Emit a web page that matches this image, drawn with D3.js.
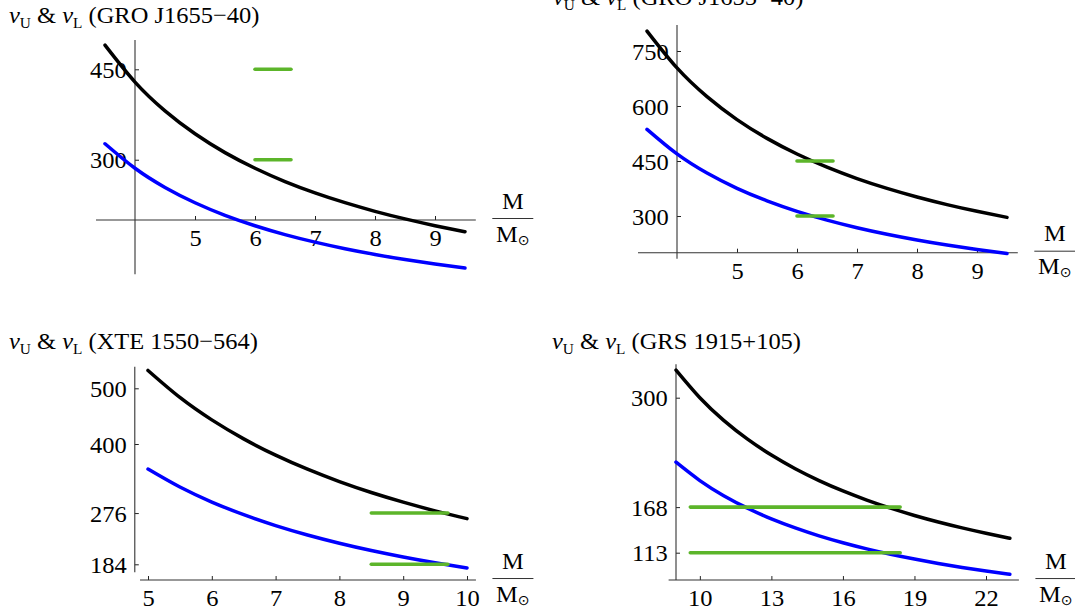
<!DOCTYPE html>
<html>
<head>
<meta charset="utf-8">
<script src="https://cdn.jsdelivr.net/npm/d3@7"></script>
<style>
  html, body { margin: 0; padding: 0; background: #ffffff; }
  svg { display: block; }
</style>
</head>
<body>
<script>
// ---------------- DATA ----------------
// Panel 1: GRO J1655-40 (top-left)
const p1Source = "GRO J1655\u221240";
const p1Mass  = [3.5, 4, 4.5, 5, 5.5, 6, 6.5, 7, 7.5, 8, 8.5, 9, 9.5];
const p1Upper = [490, 428.8, 381.1, 343, 311.8, 285.8, 263.8, 245, 228.7, 214.4, 201.8, 190.6, 180.5];
const p1Lower = [326.5, 285.8, 254, 228.6, 207.8, 190.5, 175.8, 163.3, 152.4, 142.9, 134.5, 127, 120.3];
const p1XTicks = [5, 6, 7, 8, 9];
const p1YTicks = [300, 450];
const p1ObsFreq = [450, 300];
const p1MassRange = [6.0, 6.6];

// Panel 2: GRO J1655-40 (top-right)
const p2Source = "GRO J1655\u221240";
const p2Mass  = [3.5, 4, 4.5, 5, 5.5, 6, 6.5, 7, 7.5, 8, 8.5, 9, 9.5];
const p2Upper = [804.3, 703.8, 625.6, 563, 511.8, 469.2, 433.1, 402.1, 375.3, 351.9, 331.2, 312.8, 296.3];
const p2Lower = [536.3, 469.3, 417.1, 375.4, 341.3, 312.8, 288.8, 268.1, 250.3, 234.6, 220.8, 208.6, 197.6];
const p2XTicks = [5, 6, 7, 8, 9];
const p2YTicks = [300, 450, 600, 750];
const p2ObsFreq = [450, 300];
const p2MassRange = [6.0, 6.6];

// Panel 3: XTE 1550-564 (bottom-left)
const p3Source = "XTE 1550\u2212564";
const p3Mass  = [5, 5.5, 6, 6.5, 7, 7.5, 8, 8.5, 9, 9.5, 10];
const p3Upper = [532, 483.6, 443.3, 409.2, 380, 354.7, 332.5, 312.9, 295.6, 280, 266];
const p3Lower = [355, 322.7, 295.8, 273.1, 253.6, 236.7, 221.9, 208.8, 197.2, 186.8, 177.5];
const p3XTicks = [5, 6, 7, 8, 9, 10];
const p3YTicks = [184, 276, 400, 500];
const p3ObsFreq = [276, 184];
const p3MassRange = [8.5, 9.7];

// Panel 4: GRS 1915+105 (bottom-right)
const p4Source = "GRS 1915+105";
const p4Mass  = [9, 10, 11, 12, 13, 14, 15, 16, 17, 18, 19, 20, 21, 22, 23];
const p4Upper = [333.3, 300, 272.7, 250, 230.8, 214.3, 200, 187.5, 176.5, 166.7, 157.9, 150, 142.9, 136.4, 130.4];
const p4Lower = [222.2, 200, 181.8, 166.7, 153.8, 142.9, 133.3, 125, 117.6, 111.1, 105.3, 100, 95.2, 90.9, 87];
const p4XTicks = [10, 13, 16, 19, 22];
const p4YTicks = [113, 168, 300];
const p4ObsFreq = [168, 113];
const p4MassRange = [9.6, 18.4];

// ---------------- LAYOUT ----------------
const W = 1075, H = 613;
const FONT = "Liberation Serif, Times New Roman, serif";
const FS = 24, SX = 1.02, SUB = 15;
const COL_UP = "#000000", COL_LO = "#0000ff", COL_OBS = "#5cb52a";

const svg = d3.select("body").append("svg").attr("width", W).attr("height", H);

const panels = [
  { source: p1Source, mass: p1Mass, upper: p1Upper, lower: p1Lower, xTicks: p1XTicks, yTicks: p1YTicks,
    obs: p1ObsFreq, band: p1MassRange,
    xDom: [4, 9], xRange: [135, 435], yDom: [200, 450], yRange: [220, 69.3],
    xAxisAt: 200, xAxisExt: [3.35, 9.68], yAxisAt: 4, yAxisExt: [110, 498.6],
    title: [9, 23] },
  { source: p2Source, mass: p2Mass, upper: p2Upper, lower: p2Lower, xTicks: p2XTicks, yTicks: p2YTicks,
    obs: p2ObsFreq, band: p2MassRange,
    xDom: [4, 9], xRange: [677, 977], yDom: [200, 750], yRange: [252.7, 51],
    xAxisAt: 200, xAxisExt: [3.35, 9.68], yAxisAt: 4, yAxisExt: [183.6, 821],
    title: [553, 5] },
  { source: p3Source, mass: p3Mass, upper: p3Upper, lower: p3Lower, xTicks: p3XTicks, yTicks: p3YTicks,
    obs: p3ObsFreq, band: p3MassRange,
    xDom: [5, 10], xRange: [148, 467], yDom: [400, 500], yRange: [444, 388.3],
    xAxisAt: 155.8, xAxisExt: [4.875, 10.14], yAxisAt: 4.793, yAxisExt: [169.7, 538.8],
    title: [9, 349] },
  { source: p4Source, mass: p4Mass, upper: p4Upper, lower: p4Lower, xTicks: p4XTicks, yTicks: p4YTicks,
    obs: p4ObsFreq, band: p4MassRange,
    xDom: [9, 22], xRange: [676, 986], yDom: [113, 300], yRange: [552.7, 397.7],
    xAxisAt: 80, xAxisExt: [8.69, 23.38], yAxisAt: 9, yAxisExt: [80, 340.3],
    title: [552, 349] }
];

function drawPanel(p) {
  const x = d3.scaleLinear().domain(p.xDom).range(p.xRange);
  const y = d3.scaleLinear().domain(p.yDom).range(p.yRange);
  const g = svg.append("g");

  // ---- title ----
  const t = g.append("text")
    .attr("transform", `translate(${p.title[0]},${p.title[1]}) scale(${SX},1)`)
    .attr("font-family", FONT).attr("font-size", FS).attr("fill", "#000");
  t.append("tspan").attr("font-style", "italic").text("\u03bd");
  t.append("tspan").attr("font-size", SUB).attr("dy", 5).text("U");
  t.append("tspan").attr("dy", -5).text(" & ");
  t.append("tspan").attr("font-style", "italic").text("\u03bd");
  t.append("tspan").attr("font-size", SUB).attr("dy", 5).text("L");
  t.append("tspan").attr("dy", -5).text(" (" + p.source + ")");

  // ---- axes (ticks + labels via d3 axes) ----
  const xAxisY = y(p.xAxisAt);
  const yAxisX = x(p.yAxisAt);

  const gx = g.append("g").attr("transform", `translate(0,${xAxisY})`)
    .call(d3.axisBottom(x).tickValues(p.xTicks).tickSizeInner(-4).tickSizeOuter(0).tickPadding(12)
      .tickFormat(d3.format("d")));
  const gy = g.append("g").attr("transform", `translate(${yAxisX},0)`)
    .call(d3.axisLeft(y).tickValues(p.yTicks).tickSizeInner(-4).tickSizeOuter(0).tickPadding(8)
      .tickFormat(d3.format("d")));
  [gx, gy].forEach(a => {
    a.select(".domain").remove();
    a.attr("font-family", FONT).attr("font-size", FS).attr("color", "#222");
    a.selectAll(".tick line").attr("stroke-width", 1);
    a.selectAll(".tick text").attr("fill", "#000")
      .attr("transform", `scale(${SX},1)`);
  });
  gx.selectAll(".tick text").attr("dy", "0.6em");
  gy.selectAll(".tick text").attr("dy", "0.34em");

  // axis lines
  g.append("line")
    .attr("x1", x(p.xAxisExt[0])).attr("x2", x(p.xAxisExt[1]))
    .attr("y1", xAxisY).attr("y2", xAxisY)
    .attr("stroke", "#333").attr("stroke-width", 1.1);
  g.append("line")
    .attr("x1", yAxisX).attr("x2", yAxisX)
    .attr("y1", y(p.yAxisExt[0])).attr("y2", y(p.yAxisExt[1]))
    .attr("stroke", "#333").attr("stroke-width", 1.1);

  // ---- M / M_sun fraction label ----
  const fx0 = x(p.xAxisExt[1]) + 16.5, fx1 = fx0 + 41, fy = xAxisY - 1.5;
  const fc = (fx0 + fx1) / 2;
  g.append("line").attr("x1", fx0).attr("x2", fx1).attr("y1", fy).attr("y2", fy)
    .attr("stroke", "#333").attr("stroke-width", 1);
  g.append("text").attr("transform", `translate(${fc},${fy - 10}) scale(${SX},1)`)
    .attr("text-anchor", "middle").attr("font-family", FONT).attr("font-size", FS).text("M");
  const ms = g.append("text").attr("transform", `translate(${fc},${fy + 23}) scale(${SX},1)`)
    .attr("text-anchor", "middle").attr("font-family", FONT).attr("font-size", FS);
  ms.append("tspan").text("M");
  ms.append("tspan").attr("font-size", 14).attr("dy", 3).attr("font-family", "DejaVu Sans, sans-serif").text("\u2299");

  // ---- curves ----
  const line = d3.line().curve(d3.curveNatural);
  const up = p.mass.map((m, i) => [x(m), y(p.upper[i])]);
  const lo = p.mass.map((m, i) => [x(m), y(p.lower[i])]);
  g.append("path").attr("d", line(up)).attr("fill", "none")
    .attr("stroke", COL_UP).attr("stroke-width", 3.5).attr("stroke-linecap", "round");
  g.append("path").attr("d", line(lo)).attr("fill", "none")
    .attr("stroke", COL_LO).attr("stroke-width", 3.5).attr("stroke-linecap", "round");

  // ---- observed frequency bars over the mass range ----
  g.selectAll("line.obs").data(p.obs).enter().append("line").attr("class", "obs")
    .attr("x1", x(p.band[0])).attr("x2", x(p.band[1]))
    .attr("y1", d => y(d)).attr("y2", d => y(d))
    .attr("stroke", COL_OBS).attr("stroke-width", 3.6).attr("stroke-linecap", "round");
}

panels.forEach(drawPanel);
</script>
</body>
</html>
